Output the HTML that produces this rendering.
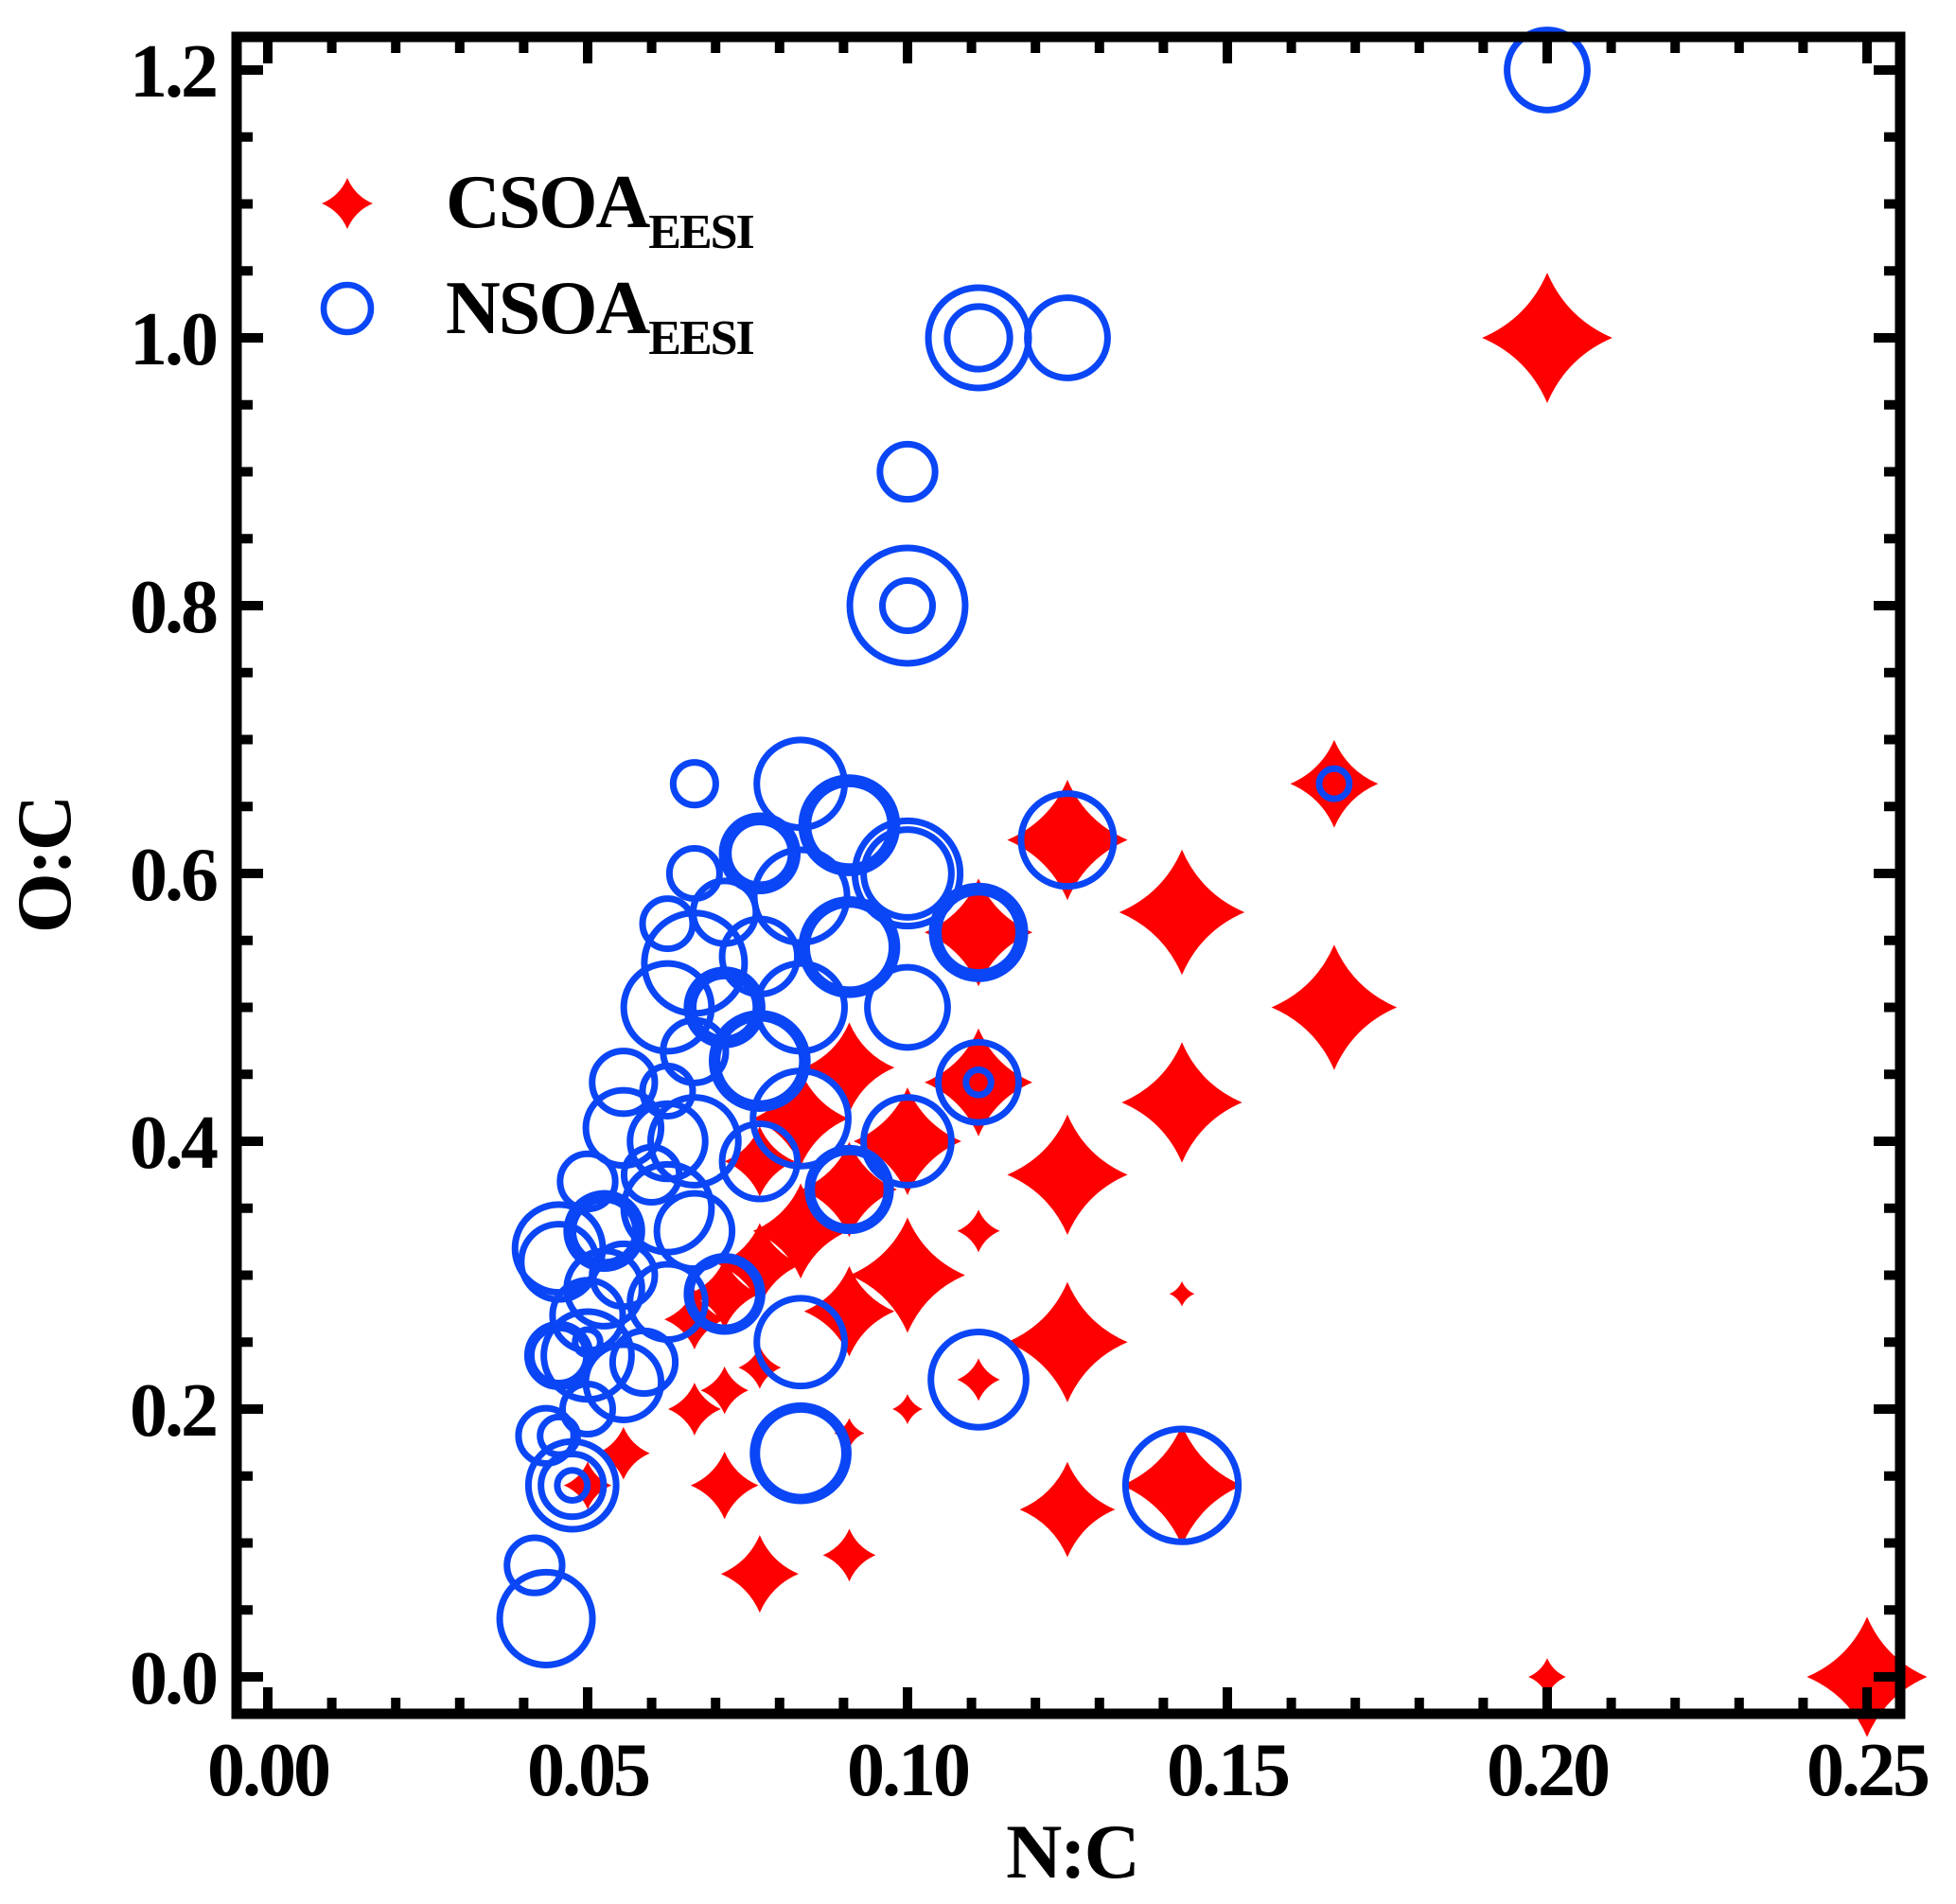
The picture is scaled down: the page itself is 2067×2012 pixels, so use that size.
<!DOCTYPE html>
<html><head><meta charset="utf-8"><style>
html,body{margin:0;padding:0;background:#fff;}
svg{display:block;font-family:"Liberation Serif",serif;font-weight:bold;}
</style></head><body>
<svg id="chart" width="2067" height="2012" viewBox="0 0 2067 2012" xmlns="http://www.w3.org/2000/svg">
<rect x="0" y="0" width="2067" height="2012" fill="#fff"/>
<g id="marks"></g>
<g id="axes"></g>
<g>
  <path d="M367 188 Q375 207 394 215 Q375 223 367 242 Q359 223 340 215 Q359 207 367 188 Z" fill="#ff0000"/>
  <text x="471" y="240" font-size="80" letter-spacing="-2">CSOA<tspan font-size="52" dy="22">EESI</tspan></text>
  <circle cx="367" cy="326" r="25" fill="none" stroke="#0a46f5" stroke-width="6.5"/>
  <text x="471" y="352" font-size="80" letter-spacing="-2">NSOA<tspan font-size="52" dy="22">EESI</tspan></text>
</g>
<text x="1133" y="1984" font-size="82" text-anchor="middle" letter-spacing="-2">N:C</text>
<text x="0" y="0" font-size="82" text-anchor="middle" letter-spacing="-2" transform="translate(74,914) rotate(-90)">O:C</text>
</svg>
<script>
// CSOA (stars): N:C, O:C, marker size
const csoaX = [0.2,0.25,0.2,0.1667,0.1667,0.1429,0.1429,0.1429,0.1429,0.125,0.125,0.125,0.125,0.1111,0.1111,0.1111,0.1111,0.1,0.1,0.1,0.0909,0.0909,0.0909,0.0909,0.0909,0.0769,0.0714,0.0714,0.0667,0.0769,0.0833,0.0833,0.0769,0.0769,0.0714,0.0667,0.0556,0.05];
const csoaY = [1.0,0.0,0.0,0.667,0.5,0.571,0.429,0.286,0.143,0.625,0.375,0.25,0.125,0.556,0.444,0.333,0.222,0.3,0.2,0.4,0.0909,0.182,0.364,0.455,0.273,0.0769,0.143,0.214,0.2,0.231,0.333,0.417,0.308,0.385,0.286,0.267,0.167,0.143];
const csoaS = [52,48,15,35,50,50,48,10,48,48,48,48,38,43,43,17,17,46,12,43,21,12,38,36,36,31,27,19,21,17,38,38,33,28,28,24,21,19];
// NSOA (circles): N:C, O:C, marker size
const nsoaX = [0.2,0.1111,0.1111,0.125,0.1,0.1,0.1,0.1667,0.125,0.1111,0.1111,0.1111,0.1111,0.1429,0.1111,0.0833,0.0833,0.0833,0.1,0.0909,0.0909,0.1,0.1,0.1,0.0909,0.0909,0.0833,0.0833,0.0909,0.0909,0.0769,0.0769,0.0667,0.0667,0.0714,0.0625,0.0667,0.0625,0.0769,0.0714,0.0714,0.0833,0.0769,0.0769,0.0667,0.0833,0.0769,0.0625,0.0556,0.0556,0.0625,0.0667,0.06,0.0625,0.0667,0.05,0.0526,0.0526,0.0455,0.0455,0.0556,0.0526,0.05,0.0714,0.0714,0.0625,0.0588,0.05,0.0455,0.0455,0.05,0.05,0.0435,0.0455,0.0476,0.0476,0.0476,0.0417,0.0435,0.0556];
const nsoaY = [1.2,1.0,1.0,1.0,0.9,0.8,0.8,0.667,0.625,0.556,0.556,0.444,0.444,0.143,0.222,0.167,0.167,0.25,0.4,0.364,0.364,0.5,0.6,0.6,0.636,0.636,0.667,0.583,0.545,0.545,0.615,0.615,0.667,0.6,0.571,0.5625,0.533,0.5,0.538,0.5,0.5,0.5,0.46,0.46,0.467,0.417,0.385,0.4375,0.444,0.41,0.4,0.4,0.375,0.35,0.333,0.37,0.333,0.333,0.32,0.31,0.3,0.29,0.27,0.286,0.286,0.28,0.235,0.24,0.24,0.24,0.25,0.2,0.18,0.18,0.143,0.143,0.143,0.0833,0.0435,0.22];
const nsoaS = [32,40,25,32,22,46,20,12,37,37,32,32,10,45,38,38,35,35,35,33,30,32,42,35,38,33,35,37,38,34,30,25,17,20,25,20,40,35,30,30,25,35,38,34,25,38,30,20,25,30,30,35,22,35,30,22,30,25,35,30,25,30,28,30,27,30,25,35,25,22,10,20,22,15,35,25,12,22,37,30];

const X0 = 283, XK = 6760, Y0 = 1772, YK = 1415, SZ = 1.325;
const xs = v => X0 + v * XK;
const ys = v => Y0 - v * YK;
const NS = 'http://www.w3.org/2000/svg';
const marks = document.getElementById('marks');
const axes = document.getElementById('axes');

function starPath(cx, cy, s) {
  const c = 0.3 * s;
  return `M${cx} ${cy - s} Q${cx + c} ${cy - c} ${cx + s} ${cy} Q${cx + c} ${cy + c} ${cx} ${cy + s} Q${cx - c} ${cy + c} ${cx - s} ${cy} Q${cx - c} ${cy - c} ${cx} ${cy - s} Z`;
}

for (let i = 0; i < csoaX.length; i++) {
  const p = document.createElementNS(NS, 'path');
  p.setAttribute('d', starPath(xs(csoaX[i]), ys(csoaY[i]), csoaS[i] * SZ));
  p.setAttribute('fill', '#ff0000');
  
  
  marks.appendChild(p);
}
for (let i = 0; i < nsoaX.length; i++) {
  const c = document.createElementNS(NS, 'circle');
  c.setAttribute('cx', xs(nsoaX[i]));
  c.setAttribute('cy', ys(nsoaY[i]));
  c.setAttribute('r', nsoaS[i] * SZ);
  c.setAttribute('fill', 'none');
  c.setAttribute('stroke', '#0a46f5');
  c.setAttribute('stroke-width', '7');
  
  
  marks.appendChild(c);
}

const L = 250, R = 2008, T = 39, B = 1811;
const fr = document.createElementNS(NS, 'rect');
fr.setAttribute('x', L); fr.setAttribute('y', T);
fr.setAttribute('width', R - L); fr.setAttribute('height', B - T);
fr.setAttribute('fill', 'none'); fr.setAttribute('stroke', '#000'); fr.setAttribute('stroke-width', '11');


axes.appendChild(fr);

function line(x1, y1, x2, y2, name) {
  const l = document.createElementNS(NS, 'line');
  l.setAttribute('x1', x1); l.setAttribute('y1', y1); l.setAttribute('x2', x2); l.setAttribute('y2', y2);
  l.setAttribute('stroke', '#000'); l.setAttribute('stroke-width', '10');
  
  
  axes.appendChild(l);
}
function text(x, y, s, anchor, name) {
  const t = document.createElementNS(NS, 'text');
  t.setAttribute('x', x); t.setAttribute('y', y);
  t.setAttribute('font-size', '80'); t.setAttribute('text-anchor', anchor);
  t.setAttribute('letter-spacing', '-3');
  t.textContent = s;
  
  
  axes.appendChild(t);
}
const xTickLabels = ['0.00','0.05','0.10','0.15','0.20','0.25'];
const yTickLabels = ['0.0','0.2','0.4','0.6','0.8','1.0','1.2'];
for (let k = 0; k <= 25; k++) {
  const v = k / 100, x = xs(v), major = k % 5 === 0, len = major ? 28 : 17;
  line(x, B, x, B - len, 'x-tick');
  line(x, T, x, T + len, 'x-tick-top');
}
xTickLabels.forEach(s => text(xs(parseFloat(s)), 1897, s, 'middle', 'x-tick-label'));
for (let k = 0; k <= 24; k++) {
  const v = k * 0.05, y = ys(v), major = k % 4 === 0, len = major ? 28 : 17;
  line(L, y, L + len, y, 'y-tick');
  line(R, y, R - len, y, 'y-tick-right');
}
yTickLabels.forEach(s => text(228, ys(parseFloat(s)) + 28, s, 'end', 'y-tick-label'));
</script>
</body></html>
